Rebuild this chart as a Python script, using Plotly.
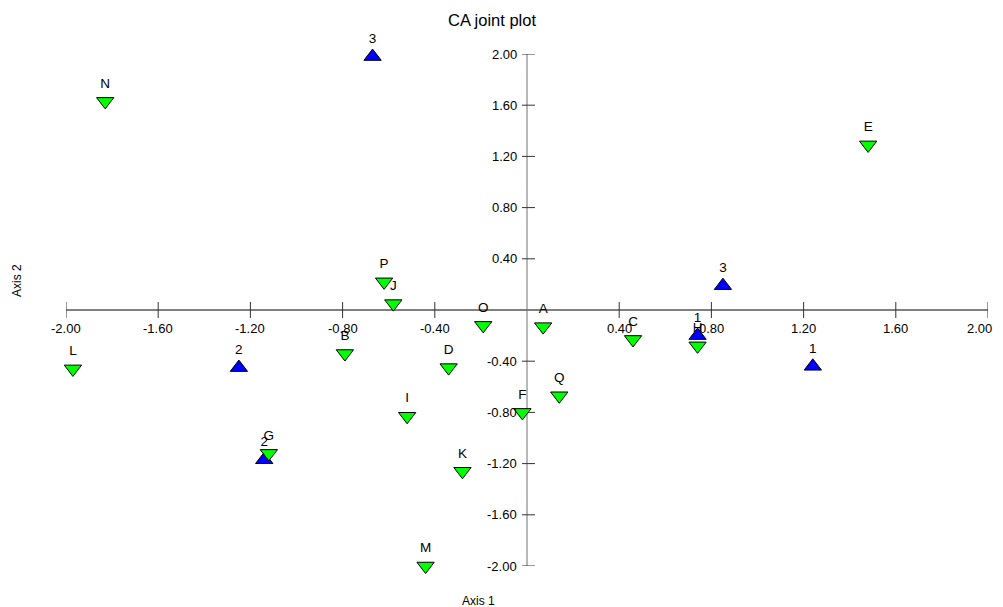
import plotly.graph_objects as go

# ---- data ----
green_labels = ['N', 'E', 'P', 'J', 'O', 'A', 'C', 'H', 'L', 'B', 'D', 'Q', 'I', 'F', 'G', 'K', 'M']
green_x = [-1.83, 1.48, -0.62, -0.58, -0.19, 0.07, 0.46, 0.74, -1.97, -0.79, -0.34, 0.14, -0.52, -0.02, -1.12, -0.28, -0.44]
green_y = [1.63, 1.29, 0.22, 0.05, -0.12, -0.13, -0.23, -0.28, -0.46, -0.34, -0.45, -0.67, -0.83, -0.80, -1.12, -1.26, -2.00]

blue_labels = ['3', '3', '1', '1', '2', '2']
blue_x = [-0.67, 0.85, 1.24, 0.74, -1.25, -1.14]
blue_y = [1.98, 0.19, -0.44, -0.20, -0.45, -1.17]

x_ticks = [-2.0, -1.6, -1.2, -0.8, -0.4, 0.4, 0.8, 1.2, 1.6, 2.0]
y_ticks = [2.0, 1.6, 1.2, 0.8, 0.4, -0.4, -0.8, -1.2, -1.6, -2.0]
x_tick_labels = ['-2.00', '-1.60', '-1.20', '-0.80', '-0.40', '0.40', '0.80', '1.20', '1.60', '2.00']
y_tick_labels = ['2.00', '1.60', '1.20', '0.80', '0.40', '-0.40', '-0.80', '-1.20', '-1.60', '-2.00']

FONT = 'Arial, Liberation Sans, sans-serif'
OFF = 8  # page body margin

fig = go.Figure()

fig.add_trace(go.Scatter(
    x=blue_x, y=blue_y, text=blue_labels, mode='markers+text',
    textposition='top center', textfont=dict(family=FONT, size=13.5, color='black'),
    marker=dict(symbol='triangle-up', size=15, color='#0000FF', line=dict(color='black', width=1)),
    cliponaxis=False, showlegend=False, hoverinfo='text'))

fig.add_trace(go.Scatter(
    x=green_x, y=green_y, text=green_labels, mode='markers+text',
    textposition='top center', textfont=dict(family=FONT, size=13.5, color='black'),
    marker=dict(symbol='triangle-down', size=15, color='#00FF00', line=dict(color='black', width=1)),
    cliponaxis=False, showlegend=False, hoverinfo='text'))

shapes = []
shapes.append(dict(type='line', xref='x', yref='y', x0=-2, x1=2, y0=0, y1=0,
                   line=dict(color='black', width=1), layer='below'))
shapes.append(dict(type='line', xref='x', yref='y', x0=0, x1=0, y0=-2, y1=2,
                   line=dict(color='#707070', width=1), layer='below'))
for t in x_ticks:
    shapes.append(dict(type='line', xref='x', yref='y', x0=t, x1=t,
                       ysizemode='pixel', yanchor=0, y0=-8, y1=8,
                       line=dict(color='#333333', width=1), layer='below'))
for t in y_ticks:
    shapes.append(dict(type='line', xref='x', yref='y', y0=t, y1=t,
                       xsizemode='pixel', xanchor=0, x0=-5, x1=8,
                       line=dict(color='#333333', width=1), layer='below'))

annotations = []
for i, (t, lab) in enumerate(zip(x_ticks, x_tick_labels)):
    last = i == len(x_ticks) - 1
    annotations.append(dict(x=t, y=0, xref='x', yref='y', text=lab, showarrow=False,
                            xanchor='right' if last else 'center', xshift=6 if last else 0,
                            yanchor='middle', yshift=-18,
                            font=dict(family=FONT, size=13, color='black')))
for t, lab in zip(y_ticks, y_tick_labels):
    annotations.append(dict(x=0, y=t, xref='x', yref='y', text=lab, showarrow=False,
                            xanchor='right', yanchor='middle', xshift=-8,
                            font=dict(family=FONT, size=13, color='black')))

annotations.append(dict(x=(478 - 66) / 922, y=(566 - 601) / 512, xref='paper', yref='paper',
                        text='Axis 1', showarrow=False, xanchor='center', yanchor='middle',
                        font=dict(family=FONT, size=12, color='black')))
annotations.append(dict(x=(17 - 66) / 922, y=(566 - 281) / 512, xref='paper', yref='paper',
                        text='Axis 2', showarrow=False, xanchor='center', yanchor='middle',
                        textangle=-90, font=dict(family=FONT, size=12, color='black')))

W, H = 1003 - OFF, 607 - OFF
fig.update_layout(
    width=W, height=H,
    margin=dict(l=66 - OFF, r=W - (66 - OFF) - 922, t=54 - OFF, b=H - (54 - OFF) - 512),
    paper_bgcolor='white', plot_bgcolor='white',
    title=dict(text='CA joint plot', x=(492 - OFF) / W, y=1 - (20 - OFF) / H,
               xanchor='center', yanchor='middle',
               font=dict(family=FONT, size=16.5, color='black')),
    xaxis=dict(range=[-2, 2], visible=False, showgrid=False, zeroline=False),
    yaxis=dict(range=[-2, 2], visible=False, showgrid=False, zeroline=False),
    shapes=shapes, annotations=annotations,
)

fig.write_html('out.html')
